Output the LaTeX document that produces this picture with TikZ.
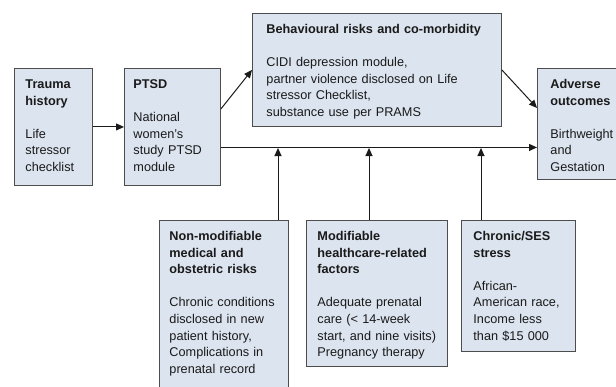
\documentclass[tikz,border=0pt]{standalone}
\usepackage{fontspec}
\setmainfont{Liberation Sans}
\usetikzlibrary{arrows.meta}

\definecolor{caixa}{HTML}{DCE4EF}
\definecolor{borda}{HTML}{4D4D4D}
\definecolor{seta}{HTML}{1A1A1A}

\begin{document}
\begin{tikzpicture}[x=1pt, y=-1pt,
    box/.style 2 args={draw=borda, fill=caixa, line width=0.9pt, anchor=north west,
        align=left, inner xsep=11pt, inner ysep=0pt, text width=#1,
        text height=20pt, text depth=#2, text=seta, font=\fontsize{12.7}{16.6}\selectfont},
    link/.style={-{Triangle[length=8pt, width=7pt]}, draw=seta, line width=1pt}
]

\useasboundingbox (0,0) rectangle (616,386);
\clip (0,0) rectangle (616,386);

% Caixas
\node[box={56pt}{97pt}] (trauma) at (14,68)
    {\textbf{Trauma}\\\textbf{history}\\[16.6pt]Life\\stressor\\checklist};
\node[box={78pt}{97pt}, inner xsep=9pt] (ptsd) at (124,68)
    {\textbf{PTSD}\\[16.6pt]National\\women’s\\\mbox{study PTSD}\\module};
\node[box={221pt}{93pt}, inner xsep=14pt] (behav) at (252,13)
    {\textbf{Behavioural risks and co-morbidity}\\[16.6pt]CIDI depression module,\\partner violence disclosed on Life\\stressor Checklist,\\substance use per PRAMS};
\node[box={80pt}{91pt}, inner xsep=13pt] (adverse) at (537,68)
    {\textbf{Adverse}\\\textbf{outcomes}\\[16.6pt]Birthweight\\and\\Gestation};
\node[box={109pt}{180pt}, inner xsep=10pt] (nonmod) at (159,220)
    {\textbf{Non-modifiable}\\\textbf{medical and}\\\textbf{obstetric risks}\\[16.6pt]\mbox{Chronic conditions}\\disclosed in new\\patient history,\\Complications in\\prenatal record};
\node[box={119pt}{126pt}, inner xsep=11pt] (modif) at (306,220)
    {\textbf{Modifiable}\\\textbf{\mbox{healthcare-related}}\\\textbf{factors}\\[16.6pt]Adequate prenatal\\care (< 14-week\\\mbox{start, and nine visits)}\\Pregnancy therapy};
\node[box={90pt}{111pt}, inner xsep=12pt] (chronic) at (461,220)
    {\textbf{Chronic/SES}\\\textbf{stress}\\[16.6pt]African-\\\mbox{American race,}\\Income less\\than \$15~000};

% Setas principais
\draw[link] (trauma) -- (ptsd);
\draw[link] ([yshift=18pt]ptsd.east) -- (behav.west);
\draw[link] (behav.east) -- ([yshift=16pt]adverse.west);
\coordinate (eixo) at ([yshift=-20.5pt]ptsd.east);
\draw[link] (eixo) -- (eixo -| adverse.west);

% Setas de baixo
\coordinate (j1) at (278,148);
\coordinate (j2) at (369,148);
\coordinate (j3) at (481,148);
\draw[link] (nonmod.north -| j1) -- (j1);
\draw[link] (modif.north -| j2) -- (j2);
\draw[link] (chronic.north -| j3) -- (j3);

\end{tikzpicture}
\end{document}
